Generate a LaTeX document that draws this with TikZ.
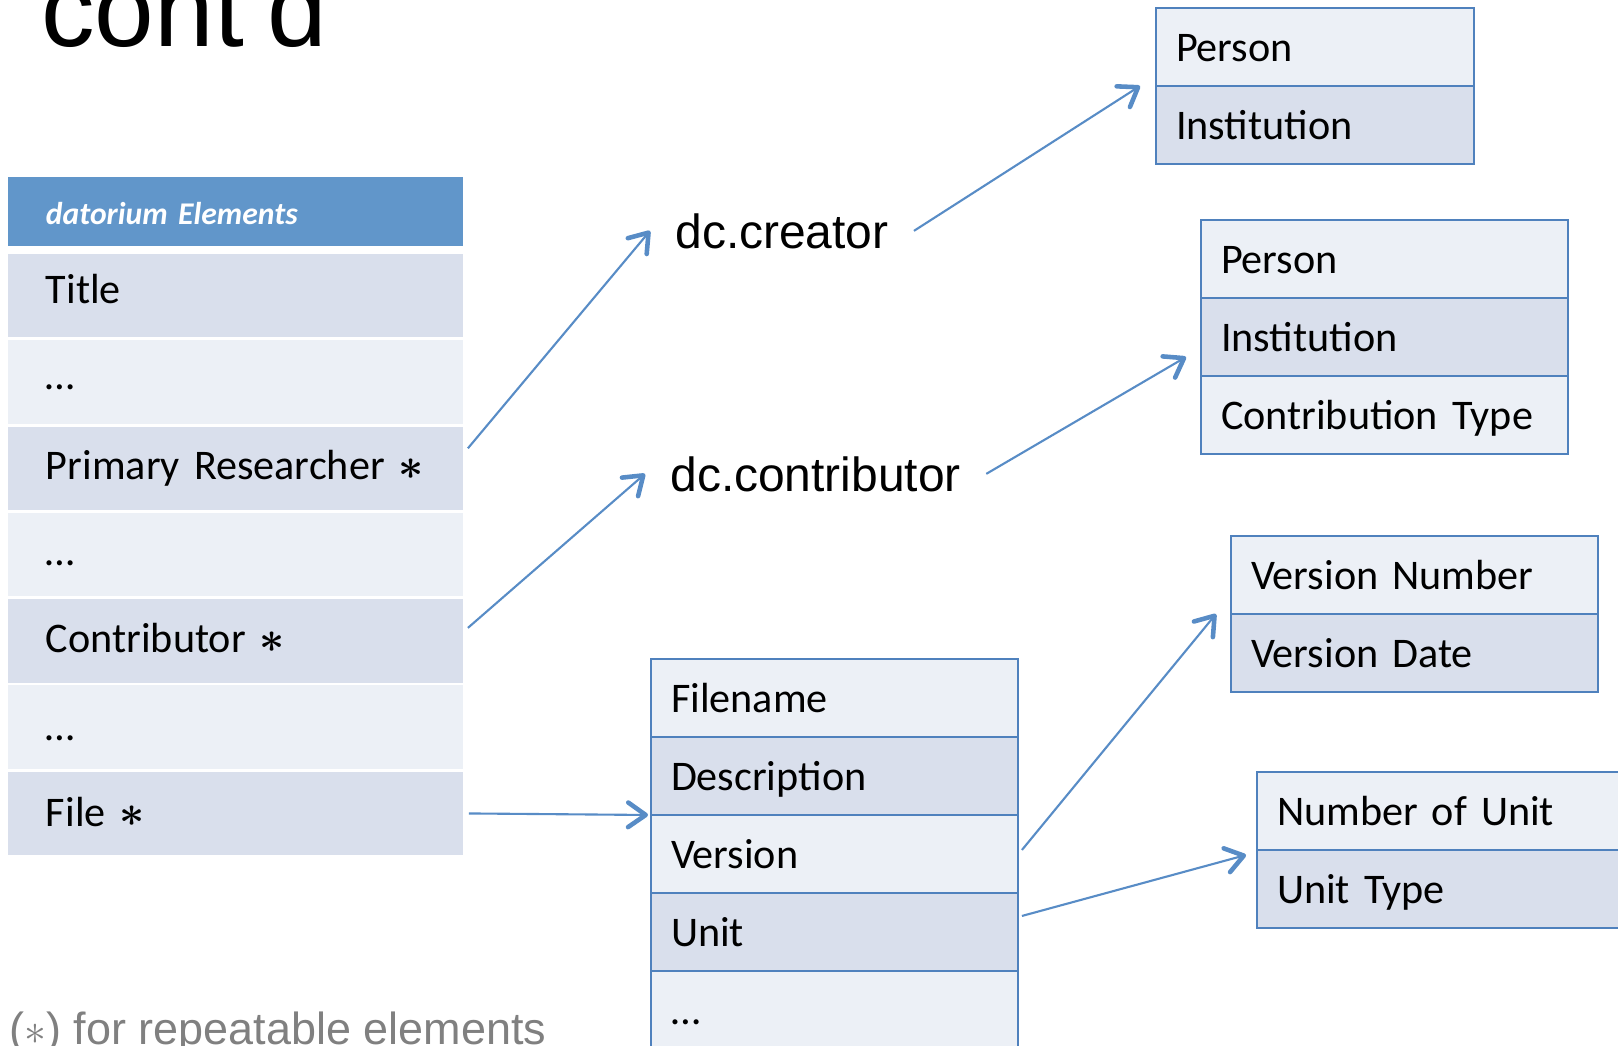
\documentclass[tikz,border=0pt]{standalone}
\usepackage{fontspec}
\setmainfont{Carlito}
\newfontfamily\arialfam{Liberation Sans}
\usetikzlibrary{arrows.meta,positioning}

\definecolor{hdrblue}{RGB}{97,150,202}
\definecolor{rowdark}{RGB}{217,223,236}
\definecolor{rowlight}{RGB}{236,240,246}
\definecolor{edgeblue}{RGB}{79,129,189}
\definecolor{arrowblue}{RGB}{88,140,198}
\definecolor{notegray}{RGB}{128,128,128}

\newcommand\cellfont{\fontsize{24}{28}\selectfont}
\newcommand\hdrfont{\fontsize{18}{21}\selectfont\bfseries\itshape}
\newcommand\dcfont{\arialfam\fontsize{27.3}{31}\selectfont}
\newcommand\titlefont{\arialfam\fontsize{61}{66}\selectfont}
\newcommand\notefont{\arialfam\fontsize{25.6}{29}\selectfont}
\newcommand\rep{{\boldmath$\ast$}}

\tikzset{
  elem/.style={fill=rowdark, text width=7.58cm, inner xsep=0.76cm, inner ysep=0pt,
    minimum height=1.67cm, text height=15.2pt, text depth=0pt, align=left,
    outer sep=0pt, font=\cellfont},
  lift/.style={text depth=#1},
  hdr/.style={fill=hdrblue, text=white, text width=7.58cm, inner xsep=0.76cm, inner ysep=0pt,
    minimum height=1.38cm, text height=14.8pt, text depth=0pt, align=left,
    outer sep=0pt, font=\hdrfont},
  cell/.style={draw=edgeblue, line width=1.6pt, fill=rowlight, text width=#1,
    inner xsep=0.4cm, inner ysep=0pt, minimum height=1.56cm, text height=16.6pt,
    text depth=0pt, align=left, outer sep=0pt, font=\cellfont},
  cell/.default=6.54cm,
  dark/.style={fill=rowdark},
  light/.style={fill=rowlight},
  dclabel/.style={font=\dcfont, inner xsep=0.5cm, inner ysep=0pt, anchor=base west},
  link/.style={draw=arrowblue, line width=1.2pt,
    -{Straight Barb[length=10pt,width=14pt,line width=2.6pt,round]}}
}

\begin{document}
\begin{tikzpicture}[x=0.02cm,y=-0.02cm]
  \useasboundingbox (0,0) rectangle (1618,1045);

  % Title
  \node[anchor=base west, inner sep=0pt, font=\titlefont] (ttl) at (41,46) {cont’d};

  % datorium elements
  \node[hdr, anchor=north west] (hdr) at (8,177) {datorium Elements};
  \node[elem, lift=6.8pt, anchor=north west] (title) at (8,254) {Title};
  \node[elem, light, lift=6.8pt, below=0.056cm of title] (dotsa) {…};
  \node[elem, lift=2.3pt, below=0.056cm of dotsa] (prim) {Primary Researcher \rep};
  \node[elem, light, lift=2.3pt, below=0.056cm of prim] (dotsb) {…};
  \node[elem, lift=2.3pt, below=0.056cm of dotsb] (contrib) {Contributor \rep};
  \node[elem, light, below=0.056cm of contrib] (dotsc) {…};
  \node[elem, below=0.056cm of dotsc] (file) {File \rep};

  % Dublin Core
  \node[dclabel] (dccreator) at (650,248) {dc.creator};
  \node[dclabel] (dccontrib) at (645,491) {dc.contributor};

  % creator
  \node[cell=5.56cm, anchor=north west] (aperson) at (1156,8) {Person};
  \node[cell=5.56cm, dark, below=0pt of aperson] (ainst) {Institution};

  % contributor
  \node[cell, anchor=north west] (bperson) at (1201,220) {Person};
  \node[cell, dark, below=0pt of bperson] (binst) {Institution};
  \node[cell, below=0pt of binst] (btype) {Contribution Type};

  % version
  \node[cell, anchor=north west] (cnum) at (1231,536) {Version Number};
  \node[cell, dark, below=0pt of cnum] (cdate) {Version Date};

  % unit
  \node[cell, anchor=north west] (dnum) at (1257,772) {Number of Unit};
  \node[cell, dark, below=0pt of dnum] (dtype) {Unit Type};

  % file
  \node[cell, anchor=north west] (fname) at (651,659) {Filename};
  \node[cell, dark, below=0pt of fname] (fdesc) {Description};
  \node[cell, below=0pt of fdesc] (fversion) {Version};
  \node[cell, dark, below=0pt of fversion] (funit) {Unit};
  \node[cell, below=0pt of funit] (fmore) {…};

  % Arrows
  \draw[link] ([xshift=0.1cm,yshift=0.4cm]prim.east) -- (dccreator.west);
  \draw[link] ([xshift=0.1cm,yshift=0.26cm]contrib.east) -- (dccontrib.west);
  \draw[link] ([xshift=0.12cm]file.east) -- ([xshift=-0.06cm]fdesc.south west);
  \draw[link] (dccreator.east) -- ([xshift=-0.32cm]aperson.south west);
  \draw[link] (dccontrib.east) -- ([xshift=-0.3cm,yshift=-0.4cm]binst.west);
  \draw[link] ([xshift=0.08cm,yshift=0.08cm]fversion.east) -- ([xshift=-0.3cm]cnum.south west);
  \draw[link] ([xshift=0.08cm,yshift=0.32cm]funit.east) -- ([xshift=-0.22cm,yshift=-0.1cm]dnum.south west);

  % note
  \node[anchor=base west, inner sep=0pt, font=\notefont, text=notegray] (note) at (9,1044)
    {($\ast$) for repeatable elements};
\end{tikzpicture}
\end{document}
